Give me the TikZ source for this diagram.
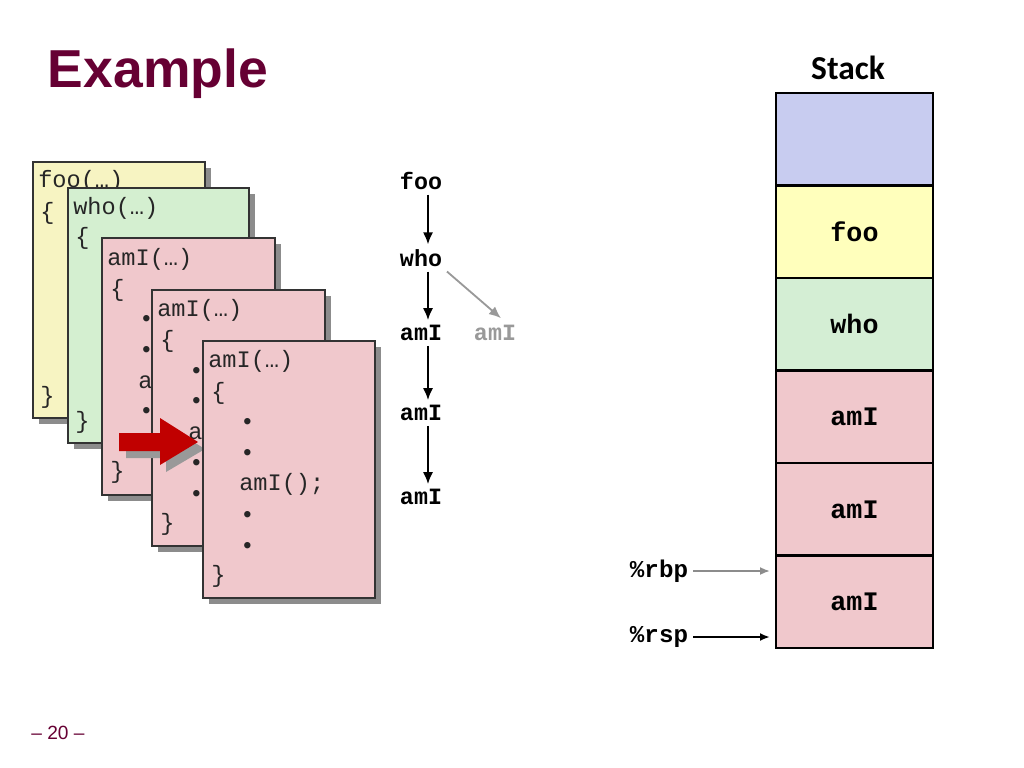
\documentclass[tikz,border=0pt]{standalone}
\usepackage{fontspec}
\setmainfont{Liberation Sans}
\setmonofont{Liberation Mono}
\newfontfamily\stackfont{Carlito}
\usetikzlibrary{positioning,arrows.meta}
\definecolor{titlered}{HTML}{660033}
\definecolor{fooyellow}{HTML}{F7F4C2}
\definecolor{whogreen}{HTML}{D4EFD0}
\definecolor{amipink}{HTML}{F0C8CC}
\definecolor{stackblue}{HTML}{C8CCF0}
\definecolor{stackyellow}{HTML}{FFFFBC}
\definecolor{stackgreen}{HTML}{D4EED4}
\definecolor{arrowred}{HTML}{C00000}

\begin{document}
\begin{tikzpicture}[x=0.025cm,y=-0.025cm,
  code/.style={font=\ttfamily\fontsize{16.8}{18}\selectfont, anchor=west, inner sep=0pt, text=black!85},
  call/.style={font=\ttfamily\bfseries\fontsize{16.6}{18}\selectfont},
  cell/.style={draw, line width=1.9pt, outer sep=0pt, minimum width=3.925cm, minimum height=2.3125cm, font=\ttfamily\bfseries\fontsize{19}{20}\selectfont},
  reg/.style={font=\ttfamily\bfseries\fontsize{17.2}{18}\selectfont},
  down/.style={-{Latex[length=3mm,width=2.5mm]}, line width=1.4pt},
  shadowbox/.style={fill=black!45},
  framebox/.style={draw=black!80, line width=0.8pt},
]
\useasboundingbox (0,0) rectangle (1024,768);

% titles
\node[font=\bfseries\fontsize{38}{40}\selectfont, text=titlered, anchor=base west] (title) at (43,88) {Example};
\node[font=\stackfont\bfseries\fontsize{23.8}{26}\selectfont, anchor=base] (stacktitle) at (848,80) {Stack};
\node[font=\fontsize{13.6}{15}\selectfont, text=titlered, anchor=base] (pagenum) at (58,739) {– 20 –};

% foo
\fill[shadowbox] (39,168) rectangle (211,424);
\filldraw[fill=fooyellow, framebox] (33,162) rectangle (205,418);
\node[code] (foohead) at (38,181) {foo(…)};
\node[code] (fooopen) at (40,213) {\{};
\node[code] (fooclose) at (40,397) {\}};

% who
\fill[shadowbox] (74,194) rectangle (255,449);
\filldraw[fill=whogreen, framebox] (68,188) rectangle (249,443);
\node[code] (whohead) at (73,208) {who(…)};
\node[code] (whoopen) at (75,238) {\{};
\node[code] (whoclose) at (75,422) {\}};

% amI 1
\fill[shadowbox] (108,244) rectangle (281,501);
\filldraw[fill=amipink, framebox] (102,238) rectangle (275,495);
\node[code] (amIahead) at (107,259) {amI(…)};
\node[code] (amIaopen) at (110,290) {\{};
\node[code] (amIab1) at (139,321) {•};
\node[code] (amIab2) at (139,352) {•};
\node[code] (amIacall) at (138,382) {amI();};
\node[code] (amIab3) at (139,413) {•};
\node[code] (amIaclose) at (110,472) {\}};

% amI 2
\fill[shadowbox] (158,296) rectangle (331,552);
\filldraw[fill=amipink, framebox] (152,290) rectangle (325,546);
\node[code] (amIbhead) at (157,310) {amI(…)};
\node[code] (amIbopen) at (160,341) {\{};
\node[code] (amIbb1) at (189,373) {•};
\node[code] (amIbb2) at (189,403) {•};
\node[code] (amIbcall) at (188,433) {amI();};
\node[code] (amIbb3) at (189,465) {•};
\node[code] (amIbb4) at (189,496) {•};
\node[code] (amIbclose) at (160,524) {\}};

% red arrow
\fill[black!40] (126,440) -- (166,440) -- (166,425) -- (205,449) -- (166,472) -- (166,458) -- (126,458) -- cycle;
\fill[arrowred] (119,433) -- (160,433) -- (160,418) -- (198,442) -- (160,465) -- (160,451) -- (119,451) -- cycle;

% amI 3
\fill[shadowbox] (209,347) rectangle (381,604);
\filldraw[fill=amipink, framebox] (203,341) rectangle (375,598);
\node[code] (amIchead) at (208,361) {amI(…)};
\node[code] (amIcopen) at (211,393) {\{};
\node[code] (amIcb1) at (240,424) {•};
\node[code] (amIcb2) at (240,455) {•};
\node[code] (amIccall) at (239,484) {amI();};
\node[code] (amIcb3) at (240,517) {•};
\node[code] (amIcb4) at (240,548) {•};
\node[code] (amIcclose) at (211,576) {\}};

% call tree
\node[call] (foo) at (421,181) {foo};
\node[call] (who) at (421,258) {who};
\node[call] (amI1) at (421,333) {amI};
\node[call] (amI2) at (421,413) {amI};
\node[call] (amI3) at (421,497) {amI};
\node[call, text=black!40] (amIx) at (495,333) {amI};
\draw[down] ([xshift=0.175cm]foo.south) -- ([xshift=0.175cm]who.north);
\draw[down] ([xshift=0.175cm]who.south) -- ([xshift=0.175cm]amI1.north);
\draw[down] ([xshift=0.175cm]amI1.south) -- ([xshift=0.175cm]amI2.north);
\draw[down] ([xshift=0.175cm]amI2.south) -- ([xshift=0.175cm]amI3.north);
\draw[down, line width=1.3pt, black!40] (who.south east) -- ([xshift=0.15cm,yshift=0.05cm]amIx.north);

% stack
\node[cell, fill=stackblue] (frame0) at (854.5,139.25) {};
\node[cell, fill=stackyellow, below=0pt of frame0] (frame1) {foo};
\node[cell, fill=stackgreen, below=0pt of frame1] (frame2) {who};
\node[cell, fill=amipink, below=0pt of frame2] (frame3) {amI};
\node[cell, fill=amipink, below=0pt of frame3] (frame4) {amI};
\node[cell, fill=amipink, below=0pt of frame4] (frame5) {amI};

% registers
\node[reg] (rbp) at (659,571) {\%rbp};
\node[reg] (rsp) at (659,637) {\%rsp};
\coordinate (rbptip) at (770,571);
\coordinate (rsptip) at (770,637);
\draw[-{Latex[length=2.5mm,width=2mm]}, line width=1.3pt, black!45] (rbp.east) -- (rbptip);
\draw[-{Latex[length=2.5mm,width=2mm]}, line width=1.5pt] (rsp.east) -- (rsptip);

\end{tikzpicture}
\end{document}
